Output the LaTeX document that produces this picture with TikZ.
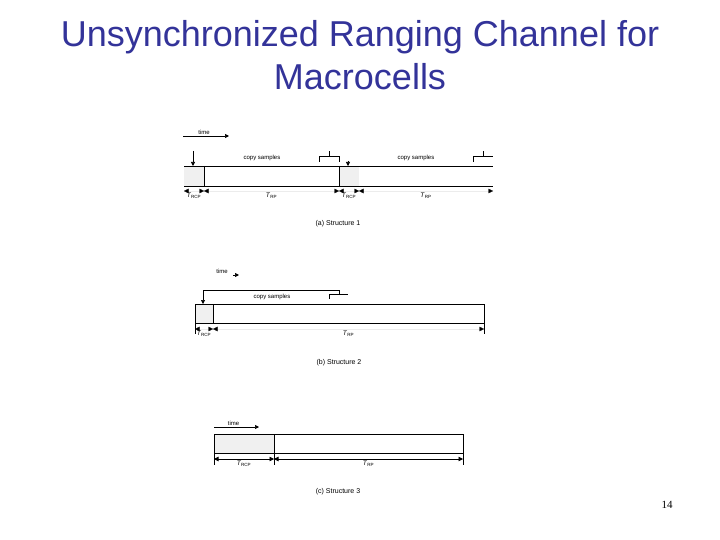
\documentclass[tikz,border=0pt]{standalone}
\usepackage{fontspec}
\setmainfont{Liberation Serif}
\setsansfont{Liberation Sans}
\usetikzlibrary{arrows.meta}
\definecolor{titleblue}{RGB}{51,51,153}
\definecolor{cpgray}{RGB}{240,240,240}
\tikzset{
	title/.style={font=\sffamily\fontsize{36}{43}\selectfont,text=titleblue,anchor=base,inner sep=0pt},
	small/.style={font=\sffamily\fontsize{6}{7}\selectfont,inner sep=0.5pt},
	caption/.style={font=\sffamily\fontsize{7}{8}\selectfont,inner sep=0.5pt},
	lbl/.style={font=\sffamily\fontsize{6.5}{7}\selectfont,inner sep=0.5pt,below=1.5pt},
	frame/.style={line width=0.7pt},
	tick/.style={line width=0.6pt},
	tri/.style={-{Triangle[length=4pt,width=4pt]}},
	dimline/.style={draw=gray!15,line width=0.3pt,{Triangle[length=4.5pt,width=4.5pt,color=black]}-{Triangle[length=4.5pt,width=4.5pt,color=black]}},
	dimsolid/.style={line width=0.6pt,{Triangle[length=4.5pt,width=4.5pt]}-{Triangle[length=4.5pt,width=4.5pt]}}
}

\begin{document}
\begin{tikzpicture}[x=1pt,y=-1pt]
	\useasboundingbox (0,0) rectangle (720,540);
	\node[title] (title1) at (360,47) {Unsynchronized Ranging Channel for};
	\node[title] (title2) at (360,90) {Macrocells};

	% (a) Structure 1
	\coordinate (a0) at (184,166);
	\coordinate (a1) at (204,166);
	\coordinate (a2) at (339,166);
	\coordinate (a3) at (359,166);
	\coordinate (a4) at (493,166);
	\coordinate (abot) at (184,186);
	\coordinate (adim) at (184,191);
	\fill[cpgray] (a0) rectangle (a1 |- abot);
	\fill[cpgray] (a2) rectangle (a3 |- abot);
	\draw[frame] (a0) -- (a4) (abot) -- (a4 |- abot)
		(a1) -- (a1 |- abot) (a2) -- (a2 |- abot);
	\coordinate (atime) at (183,136);
	\draw[frame,tri] (atime) -- node[small,above=1pt,xshift=-2pt] (atimelbl) {time} ++(46,0);
	\coordinate (adn1) at (193,151);
	\draw[frame,tri] (adn1) -- (adn1 |- a0);
	\coordinate (adn2) at (348,161);
	\draw[frame,tri] (adn2) -- (adn2 |- a0);
	\coordinate (abr1) at (329,156);
	\coordinate (abr2) at (483,156);
	\draw[tick] (abr1) ++(-10,6) -- ++(0,-6) -- ++(20,0) -- ++(0,6) (abr1) -- ++(0,-5);
	\draw[tick] (abr2) ++(-10,6) -- ++(0,-6) -- ++(20,0) (abr2) -- ++(0,-5);
	\node[small] (acopy1) at (262,158) {copy samples};
	\node[small] (acopy2) at (416,158) {copy samples};
	\draw[dimline] (a0 |- adim) -- node[lbl] (arcp1) {\textit{T}\textsubscript{RCP}} (a1 |- adim);
	\draw[dimline] (a1 |- adim) -- node[lbl] (arp1) {\textit{T}\textsubscript{RP}} (a2 |- adim);
	\draw[dimline] (a2 |- adim) -- node[lbl] (arcp2) {\textit{T}\textsubscript{RCP}} (a3 |- adim);
	\draw[dimline] (a3 |- adim) -- node[lbl] (arp2) {\textit{T}\textsubscript{RP}} (a4 |- adim);
	\node[caption] (acap) at (338,224) {(a) Structure 1};

	% (b) Structure 2
	\coordinate (b0) at (195,304);
	\coordinate (b1) at (213,304);
	\coordinate (b2) at (484,304);
	\coordinate (bbot) at (195,323);
	\coordinate (bdim) at (195,329);
	\fill[cpgray] (b0) rectangle (b1 |- bbot);
	\draw[frame] (b0) rectangle (b2 |- bbot) (b1) -- (b1 |- bbot);
	\draw[tick] (bbot) -- ++(0,11) (b2 |- bbot) -- ++(0,11);
	\node[small] (btimelbl) at (222,271) {time};
	\coordinate (btime) at (233,275);
	\draw[frame,tri] (btime) -- ++(6,0);
	\coordinate (bbr) at (339,294);
	\coordinate (bdn) at (203,290);
	\draw[tick] (bbr) ++(-10,5) -- ++(0,-5) -- ++(19,0);
	\draw[tick,tri] (bbr) -- (bbr |- bdn) -- (bdn) -- (bdn |- b0);
	\node[small] (bcopy) at (272,297) {copy samples};
	\draw[dimline] (b0 |- bdim) -- node[lbl] (brcp) {\textit{T}\textsubscript{RCP}} (b1 |- bdim);
	\draw[dimline] (b1 |- bdim) -- node[lbl] (brp) {\textit{T}\textsubscript{RP}} (b2 |- bdim);
	\node[caption] (bcap) at (339,363) {(b) Structure 2};

	% (c) Structure 3
	\coordinate (c0) at (214,434);
	\coordinate (c1) at (274,434);
	\coordinate (c2) at (463,434);
	\coordinate (cbot) at (214,453);
	\coordinate (cdim) at (214,459);
	\fill[cpgray] (c0) rectangle (c1 |- cbot);
	\draw[frame] (c0) rectangle (c2 |- cbot) (c1) -- (c1 |- cbot);
	\draw[tick] (cbot) -- ++(0,12) (c1 |- cbot) -- ++(0,12) (c2 |- cbot) -- ++(0,12);
	\coordinate (ctime) at (214,427);
	\draw[frame,tri] (ctime) -- node[small,above=1pt,xshift=-3pt] (ctimelbl) {time} ++(45,0);
	\draw[dimsolid] (c0 |- cdim) -- node[lbl] (crcp) {\textit{T}\textsubscript{RCP}} (c1 |- cdim);
	\draw[dimsolid] (c1 |- cdim) -- node[lbl] (crp) {\textit{T}\textsubscript{RP}} (c2 |- cdim);
	\node[caption] (ccap) at (338,492) {(c) Structure 3};

	\node[font=\rmfamily\fontsize{11}{13}\selectfont,anchor=base] (pageno) at (667,508) {14};
\end{tikzpicture}
\end{document}
